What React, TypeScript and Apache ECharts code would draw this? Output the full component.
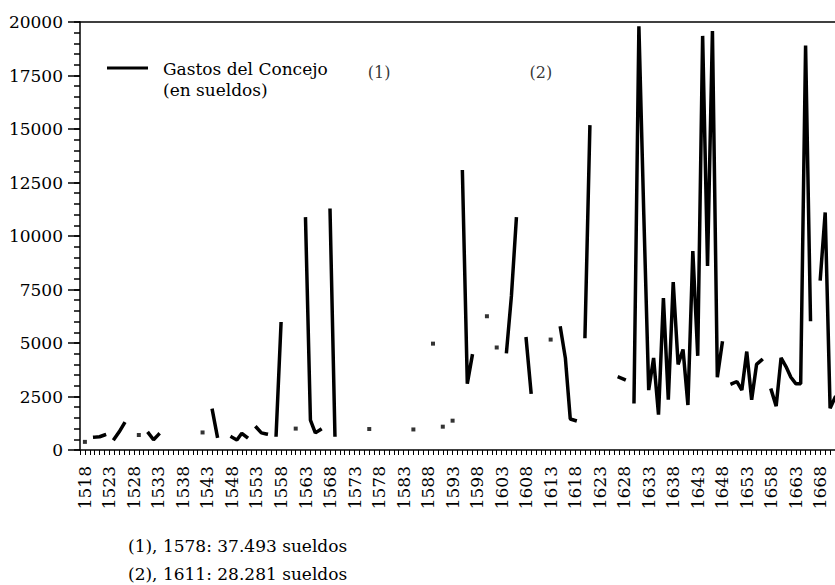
import React, { useEffect, useRef } from "react";
import * as echarts from "echarts";

// Gastos del Concejo (en sueldos), one value per year from 1518; null = no data
const FIRST_YEAR = 1518;
const gastos: (number | null)[] = [
  // 1518-1527
  380, null, 600, 620, 700, null, 520, 850, 1230, null,
  // 1528-1537
  null, 700, null, 780, 480, 720, null, null, null, null,
  // 1538-1547
  null, null, null, null, 820, null, 1850, 650, null, null,
  // 1548-1557
  600, 470, 780, 600, null, 1050, 800, 750, null, 700,
  // 1558-1567
  5900, null, null, 1000, null, 10800, 1400, 800, 950, null,
  // 1568-1577
  11200, 700, null, null, null, null, null, null, 980, null,
  // 1578-1587
  null, null, null, null, null, null, null, 960, null, null,
  // 1588-1597
  null, 4970, null, 1090, null, 1370, null, 13000, 3100, 4400,
  // 1598-1607
  null, null, 6250, null, 4790, null, 4600, 7200, 10800, null,
  // 1608-1617
  5200, 2700, null, null, null, 5160, null, 5700, 4300, 1450,
  // 1618-1627
  1380, null, 5300, 15100, null, null, null, null, null, 3400,
  // 1628-1637
  3300, null, 2250, 19800, 11000, 2800, 4300, 1650, 7100, 2350,
  // 1638-1647
  7850, 4000, 4700, 2100, 9300, 4400, 19350, 8600, 19580, 3400,
  // 1648-1657
  5000, null, 3100, 3200, 2800, 4600, 2350, 4000, 4200, null,
  // 1658-1667
  2800, 2050, 4300, 3900, 3400, 3100, 3100, 18900, 6100, null,
  // 1668-1671
  8000, 11100, 1950, 2450,
];

const X_MIN = 1517;
const X_MAX = 1671;
const LAST_LABEL_YEAR = 1668;
const LABEL_STEP = 5;
const Y_MAX = 20000;
const Y_STEP = 2500;
const Y_MINOR_STEP = 500;

const seriesName = "Gastos del Concejo";
const legendLines = ["Gastos del Concejo", "(en sueldos)"];
const noteYears = [1578, 1611];
const noteMarks = ["(1)", "(2)"];
const footnotes = ["(1), 1578: 37.493 sueldos", "(2), 1611: 28.281 sueldos"];

const FONT = "'DejaVu Serif', serif";

export default function App() {
  const ref = useRef<HTMLDivElement>(null);

  useEffect(() => {
    if (!ref.current) return;
    const chart = echarts.init(ref.current, null, { renderer: "svg" });

    const years = gastos.map((_, i) => FIRST_YEAR + i);
    const lineData = gastos.map((v, i) => [years[i], v === null ? "-" : v]);
    const isolated = gastos
      .map((v, i) => ({ v, i }))
      .filter(
        ({ v, i }) =>
          v !== null &&
          (i === 0 || gastos[i - 1] === null) &&
          (i === gastos.length - 1 || gastos[i + 1] === null)
      )
      .map(({ v, i }) => [years[i], v as number]);
    const markY = 17650;
    const markData = noteYears.map((y) => [y, markY]);

    const textStyle = (text: string) => ({
      text,
      fill: "#000",
      fontFamily: FONT,
      fontSize: 17,
      verticalAlign: "middle",
    });

    chart.setOption({
      animation: false,
      backgroundColor: "#fff",
      grid: { left: 80, right: 0, top: 22, bottom: 135, containLabel: false },
      xAxis: [
        {
          type: "value",
          min: X_MIN,
          max: X_MAX,
          interval: 1,
          axisLine: { show: true, onZero: false, lineStyle: { color: "#000", width: 1.5 } },
          axisTick: { show: true, inside: false, length: 5, lineStyle: { color: "#000", width: 1 } },
          axisLabel: {
            show: true,
            rotate: 90,
            margin: 16,
            color: "#000",
            fontFamily: FONT,
            fontSize: 17,
            formatter: (v: number) =>
              (v - FIRST_YEAR) % LABEL_STEP === 0 && v <= LAST_LABEL_YEAR ? String(v) : "",
          },
          splitLine: { show: false },
        },
        {
          type: "value",
          position: "top",
          min: X_MIN,
          max: X_MAX,
          axisLine: { show: true, onZero: false, lineStyle: { color: "#000", width: 1.5 } },
          axisTick: { show: false },
          axisLabel: { show: false },
          splitLine: { show: false },
        },
      ],
      yAxis: [
        {
          type: "value",
          position: "left",
          min: 0,
          max: Y_MAX,
          interval: Y_STEP,
          axisLine: { show: true, onZero: false, lineStyle: { color: "#000", width: 1.5 } },
          axisTick: { show: true, inside: false, length: 12, lineStyle: { color: "#000", width: 1.5 } },
          axisLabel: {
            show: true,
            color: "#000",
            fontFamily: FONT,
            fontSize: 17,
            margin: 17,
            formatter: (v: number) => String(v),
          },
          splitLine: { show: false },
        },
        {
          type: "value",
          position: "left",
          min: 0,
          max: Y_MAX,
          interval: Y_MINOR_STEP,
          axisLine: { show: false, onZero: false },
          axisTick: { show: true, inside: false, length: 6, lineStyle: { color: "#000", width: 1.5 } },
          axisLabel: { show: false },
          splitLine: { show: false },
        },
      ],
      series: [
        {
          name: seriesName,
          type: "line",
          data: lineData,
          showSymbol: false,
          connectNulls: false,
          lineStyle: { color: "#000", width: 3.5, join: "bevel", cap: "square" },
          itemStyle: { color: "#000" },
          silent: true,
        },
        {
          type: "scatter",
          data: isolated,
          symbol: "rect",
          symbolSize: 4,
          itemStyle: { color: "#000" },
          silent: true,
        },
        {
          type: "scatter",
          data: markData,
          symbolSize: 1,
          itemStyle: { color: "rgba(0,0,0,0)" },
          label: {
            show: true,
            position: "inside",
            color: "#000",
            fontFamily: FONT,
            fontSize: 16,
            formatter: (p: any) => noteMarks[p.dataIndex],
          },
          silent: true,
        },
      ],
      graphic: [
        {
          type: "line",
          shape: { x1: 107, y1: 68, x2: 148, y2: 68 },
          style: { stroke: "#000", lineWidth: 3 },
        },
        { type: "text", x: 163, y: 69, style: textStyle(legendLines[0]) },
        { type: "text", x: 163, y: 90, style: textStyle(legendLines[1]) },
        { type: "text", x: 128, y: 546, style: textStyle(footnotes[0]) },
        { type: "text", x: 128, y: 574, style: textStyle(footnotes[1]) },
      ],
    });

    return () => chart.dispose();
  }, []);

  return (
    <div
      ref={ref}
      style={{ position: "fixed", left: 0, top: 0, width: 835, height: 585, background: "#fff" }}
    />
  );
}
